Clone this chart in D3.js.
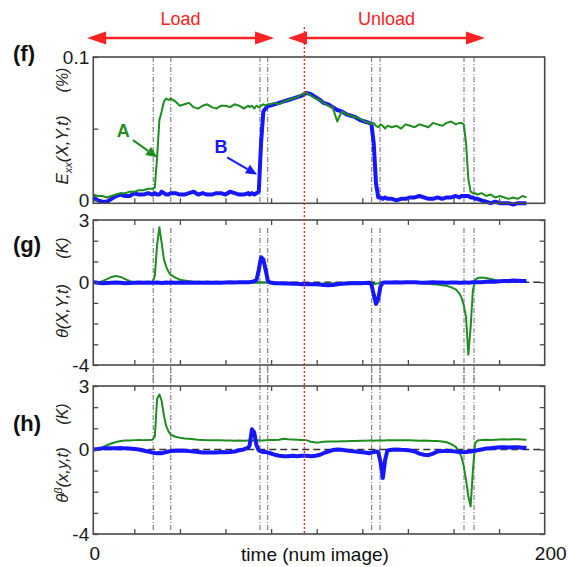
<!DOCTYPE html>
<html><head><meta charset="utf-8">
<script src="https://cdn.jsdelivr.net/npm/d3@7"></script>
<style>body{margin:0;background:#fff}svg text{font-family:"Liberation Sans",Arial,Helvetica,sans-serif}</style>
</head><body><svg id="c" width="569" height="567"></svg>
<script>
// image number (time axis)
const time = [
 2,4,6,8,10,12,14,16,18,20,22,24,26,28,
 29,30,31,32,33,34,35,36,
 38,40,42,44,46,48,50,52,54,56,58,60,62,64,66,68,70,
 70.6,71.6,72.6,73.6,74.6,75.6,76.6,77.6,78.6,79.6,
 81.5,83.5,85.5,87.5,89.5,91.5,93.5,95.5,97.5,99.5,101.5,103,105,107,109,111,113,115,117,119,121,123,
 124,125,126,127,128,129,130,131,
 133,135,137,139,141,143,145,147,149,151,153,155,157,159,161,162.6,
 163.5,164.5,165.5,166.5,167.5,168.5,169.5,170.5,
 172.3,174.3,176.3,178.3,180.3,182.3,184.2,186.2,188.2,190.2,192
];
// (f) Exx(X,Y,t) in %, point A (green) and B (blue)
const exxA = [
 0.004,0.003,0.003,0.002,0.003,0.004,0.005,0.005,0.006,0.006,0.007,0.007,0.008,0.008,
 0.009,0.030,0.056,0.062,0.069,0.071,0.070,0.071,
 0.069,0.066,0.067,0.068,0.065,0.064,0.066,0.067,0.065,0.064,0.066,0.066,0.065,0.067,0.066,0.064,0.066,
 0.065,0.066,0.064,0.066,0.065,0.066,0.067,0.066,0.067,0.067,
 0.068,0.067,0.069,0.070,0.071,0.072,0.074,0.075,0.073,0.071,0.070,0.068,0.066,0.065,0.055,0.062,0.060,0.059,0.058,0.057,0.055,0.054,
 0.053,0.054,0.052,0.051,0.053,0.052,0.050,0.052,
 0.051,0.052,0.050,0.053,0.052,0.051,0.053,0.052,0.051,0.054,0.053,0.052,0.054,0.055,0.053,0.054,
 0.054,0.053,0.040,0.015,0.006,0.005,0.005,0.004,
 0.005,0.003,0.004,0.002,0.003,0.002,0.001,0.002,0.001,0.003,0.002
];
const exxB = [
 0.002,0.000,-0.001,-0.001,0.001,0.003,0.004,0.003,0.003,0.005,0.004,0.004,0.005,0.004,
 0.005,0.004,0.004,0.006,0.005,0.004,0.004,0.005,
 0.005,0.004,0.004,0.005,0.006,0.004,0.005,0.004,0.004,0.005,0.005,0.004,0.006,0.005,0.004,0.004,0.005,
 0.004,0.005,0.004,0.005,0.006,0.040,0.062,0.064,0.066,0.066,
 0.067,0.068,0.069,0.070,0.071,0.072,0.073,0.075,0.074,0.072,0.070,0.068,0.067,0.065,0.063,0.062,0.060,0.059,0.058,0.056,0.055,0.054,
 0.053,0.040,0.012,0.002,0.002,0.001,0.002,0.001,
 0.001,0.000,0.001,0.001,0.002,0.002,0.003,0.002,0.001,0.001,0.002,0.001,0.002,0.002,0.003,0.002,
 0.003,0.003,0.003,0.003,0.002,0.002,0.001,0.001,
 0.000,-0.001,-0.002,-0.001,-0.002,-0.002,-0.002,-0.003,-0.002,-0.002,-0.002
];
// (g) theta(X,Y,t) in K
const thetaA = [
 0,0,0.05,0.15,0.25,0.3,0.25,0.15,0.05,0,0,-0.02,0,0,
 0.3,1.8,2.65,1.9,1.1,0.75,0.5,0.35,
 0.22,0.12,0.08,0.04,0.02,0,0,-0.02,0,-0.02,-0.02,-0.03,-0.02,-0.03,-0.02,-0.03,-0.02,
 -0.03,-0.02,-0.03,-0.02,-0.03,-0.02,-0.03,-0.02,-0.03,-0.03,
 -0.05,-0.06,-0.05,-0.08,-0.06,-0.07,-0.05,-0.06,-0.08,-0.1,-0.08,-0.07,-0.08,-0.06,-0.05,-0.06,-0.05,-0.04,-0.05,-0.04,-0.03,-0.02,
 0,-0.1,-0.08,-0.05,-0.03,-0.02,0,-0.02,
 0,-0.02,0,-0.02,0,-0.02,-0.05,-0.05,-0.08,-0.1,-0.12,-0.15,-0.18,-0.25,-0.35,-0.55,
 -0.75,-1.1,-1.7,-3.5,-2.2,-0.4,0.1,0.2,
 0.22,0.2,0.15,0.1,0.05,0.02,0,0.02,0.05,0.02,0
];
const thetaB = [
 0,-0.03,-0.05,-0.04,-0.03,-0.02,-0.03,-0.05,-0.04,-0.03,-0.02,-0.03,-0.02,-0.03,
 -0.03,-0.02,-0.03,-0.04,-0.03,-0.02,-0.03,-0.02,
 -0.03,-0.02,-0.03,-0.02,-0.03,-0.02,-0.03,-0.02,-0.03,-0.02,-0.03,-0.02,-0.01,-0.02,-0.01,0,0,
 0,0.02,0.05,0.1,0.6,1.2,1.1,0.6,0.05,-0.02,
 -0.05,-0.05,-0.06,-0.07,-0.08,-0.08,-0.1,-0.09,-0.1,-0.1,-0.12,-0.14,-0.15,-0.14,-0.1,-0.08,-0.06,-0.05,-0.04,-0.05,-0.04,-0.03,
 -0.1,-0.6,-1.05,-0.8,-0.2,-0.03,-0.02,-0.02,
 -0.02,-0.01,-0.02,0,-0.01,0,-0.02,-0.03,-0.02,-0.01,-0.02,-0.02,-0.03,-0.02,-0.02,-0.03,
 -0.03,-0.02,-0.02,-0.03,-0.02,-0.01,0,0,
 0,0.02,0.03,0.02,0.04,0.05,0.06,0.08,0.07,0.05,0.06
];
// (h) theta^beta(x,y,t) in K
const thetaBetaA = [
 0,0.02,0.1,0.2,0.28,0.35,0.4,0.42,0.42,0.44,0.45,0.44,0.45,0.46,
 0.6,2.4,2.6,2.3,1.6,1.1,0.85,0.7,
 0.6,0.55,0.52,0.5,0.48,0.46,0.45,0.44,0.44,0.43,0.43,0.42,0.42,0.41,0.42,0.41,0.42,
 0.42,0.41,0.42,0.42,0.43,0.42,0.42,0.43,0.44,0.45,
 0.45,0.46,0.5,0.48,0.47,0.46,0.45,0.44,0.36,0.33,0.34,0.36,0.37,0.38,0.38,0.39,0.39,0.4,0.4,0.41,0.41,0.42,
 0.42,0.41,0.42,0.42,0.43,0.42,0.42,0.43,
 0.43,0.43,0.43,0.44,0.43,0.42,0.41,0.42,0.41,0.4,0.4,0.38,0.34,0.25,0.12,-0.15,
 -0.35,-0.8,-1.45,-2.2,-2.7,-1.0,0.3,0.42,
 0.45,0.46,0.45,0.46,0.47,0.48,0.47,0.48,0.48,0.47,0.46
];
const thetaBetaB = [
 0,0.02,0.05,0.06,0.05,0.06,0.07,0.05,0.04,0.02,0,-0.05,-0.1,-0.15,
 -0.17,-0.18,-0.17,-0.18,-0.15,-0.12,-0.1,-0.08,
 -0.06,-0.05,-0.06,-0.08,-0.1,-0.12,-0.14,-0.15,-0.14,-0.15,-0.12,-0.13,-0.12,-0.1,-0.04,0,0.08,
 0.2,0.95,0.8,0.2,-0.05,-0.1,-0.12,-0.12,-0.15,-0.18,
 -0.25,-0.3,-0.32,-0.32,-0.3,-0.32,-0.3,-0.3,-0.32,-0.3,-0.25,-0.18,-0.1,-0.03,0,-0.02,-0.05,-0.08,-0.1,-0.12,-0.15,-0.18,
 -0.15,-0.12,-0.1,-0.12,-0.6,-1.35,-0.5,-0.05,
 -0.02,0,-0.02,-0.03,-0.05,-0.1,-0.2,-0.25,-0.27,-0.2,-0.1,-0.08,-0.06,-0.08,-0.1,-0.12,
 -0.12,-0.13,-0.12,-0.11,-0.1,-0.08,-0.06,-0.04,
 0,0.04,0.06,0.08,0.1,0.1,0.09,0.1,0.1,0.08,0.08
];
const eventTimes = [28.3,36.0,75.1,78.5,124.1,127.8,164.6,169.0];
const switchTime = 94.6;
const loadSpan = [-0.7,81.3];
const unloadSpan = [87.4,173.8];
const xTicks = [20,40,60,80,100,120,140,160,180];
const xLabels = [0,200];
const exxTicks = [0,0.05,0.1];
const exxLabels = {0:"0",0.1:"0.1"};
const thetaTicks = [-4,-3,-2,-1,0,1,2,3];
const thetaLabels = {3:"3",0:"0","-4":"-4"};

const GREEN="#1f8c1f", BLUE="#1616ff", RED="#ff2222", FRAME="#4a4a4a";
const svg = d3.select("#c");
const x = d3.scaleLinear().domain([0,200]).range([88.7,544.7]);
const x0 = x(2), x1 = x(200);

const panels = [
 {id:"f", a:exxA, b:exxB, y:d3.scaleLinear().domain([-0.0021,0.1]).range([203.3,57]),
  ticks:exxTicks, labels:exxLabels, full:false, blueTop:false, zero:false,
  label:"(f)", labelY:61, titleMain:"exx", titleMainY:150, unit:"(%)", unitY:80, ev:[57,203]},
 {id:"g", a:thetaA, b:thetaB, y:d3.scaleLinear().domain([-4,3]).range([365,220]),
  ticks:thetaTicks, labels:thetaLabels, full:true, blueTop:true, zero:true,
  label:"(g)", labelY:252, titleMain:"theta", titleMainY:311, unit:"(K)", unitY:248, ev:[228,386]},
 {id:"h", a:thetaBetaA, b:thetaBetaB, y:d3.scaleLinear().domain([-4,3]).range([534,386]),
  ticks:thetaTicks, labels:thetaLabels, full:true, blueTop:true, zero:true,
  label:"(h)", labelY:431, titleMain:"thetab", titleMainY:475, unit:"(K)", unitY:414, ev:[365,530]}
];

function styleAxis(g){
  g.select(".domain").remove();
  g.selectAll(".tick line").attr("stroke",FRAME).attr("stroke-width",1.3);
  g.selectAll("text").attr("font-size",19).attr("fill","#1a1a1a").attr("font-family","Liberation Sans, Arial, sans-serif");
}

panels.forEach(p=>{
  const y = p.y, top=y.range()[1], bot=y.range()[0];
  const g = svg.append("g");
  eventTimes.forEach(t=>{
    g.append("line").attr("x1",x(t)).attr("x2",x(t)).attr("y1",p.ev[0]).attr("y2",p.ev[1])
     .attr("stroke","#7a7a7a").attr("stroke-width",1.1).attr("stroke-dasharray","5,2,1,2");
  });
  if(p.zero){
    g.append("line").attr("x1",x0).attr("x2",x1).attr("y1",y(0)).attr("y2",y(0))
     .attr("stroke","#333").attr("stroke-width",1.5).attr("stroke-dasharray","7,4");
  }
  const line = d3.line().x((d,i)=>x(time[i])).y(d=>y(d));
  const drawA = ()=>g.append("path").datum(p.a).attr("d",line).attr("fill","none").attr("stroke",GREEN).attr("stroke-width",2).attr("stroke-linejoin","round");
  const drawB = ()=>g.append("path").datum(p.b).attr("d",line).attr("fill","none").attr("stroke",BLUE).attr("stroke-width",4).attr("stroke-linejoin","round");
  if(p.blueTop){drawA();drawB();} else {drawB();drawA();}
  g.append("rect").attr("x",x0).attr("y",top).attr("width",x1-x0).attr("height",bot-top)
   .attr("fill","none").attr("stroke",FRAME).attr("stroke-width",1.6);
  g.append("g").attr("transform",`translate(${x0},0)`)
   .call(d3.axisLeft(y).tickValues(p.ticks).tickFormat(d=>p.labels[d]||"").tickSizeInner(-5).tickSizeOuter(0).tickPadding(4))
   .call(styleAxis);
  g.append("g").attr("transform",`translate(0,${bot})`)
   .call(d3.axisBottom(x).tickValues(xTicks).tickFormat("").tickSizeInner(-5).tickSizeOuter(0)).call(styleAxis);
  if(p.full){
    g.append("g").attr("transform",`translate(${x1},0)`)
     .call(d3.axisRight(y).tickValues(p.ticks).tickFormat("").tickSizeInner(-5).tickSizeOuter(0)).call(styleAxis);
    g.append("g").attr("transform",`translate(0,${top})`)
     .call(d3.axisTop(x).tickValues(xTicks).tickFormat("").tickSizeInner(-5).tickSizeOuter(0)).call(styleAxis);
  }
  g.append("text").attr("x",13).attr("y",p.labelY).attr("font-size",22).attr("font-weight","bold").attr("fill","#111").text(p.label);
  const tm = g.append("text").attr("transform",`translate(68,${p.titleMainY}) rotate(-90)`)
    .attr("text-anchor","middle").attr("font-style","italic").attr("font-size",p.id==="f"?17:16.5).attr("fill","#222");
  if(p.titleMain==="exx"){
    tm.append("tspan").text("E");
    tm.append("tspan").attr("dy",4).attr("font-size",11).text("xx");
    tm.append("tspan").attr("dy",-4).text("(X,Y,t)");
  } else if(p.titleMain==="theta"){
    tm.append("tspan").text("θ(X,Y,t)");
  } else {
    tm.append("tspan").text("θ");
    tm.append("tspan").attr("dy",-6).attr("font-size",11).text("β");
    tm.append("tspan").attr("dy",6).text("(x,y,t)");
  }
  g.append("text").attr("transform",`translate(68,${p.unitY}) rotate(-90)`)
    .attr("text-anchor","middle").attr("font-style","italic").attr("font-size",16).attr("fill","#222").text(p.unit);
});

xLabels.forEach(v=>{
  svg.append("text").attr("x",x(v)+6).attr("y",560).attr("text-anchor","middle").attr("font-size",19).attr("fill","#111").text(v);
});
svg.append("text").attr("x",315).attr("y",561).attr("text-anchor","middle").attr("font-size",19).attr("fill","#111").text("time (num image)");

svg.append("line").attr("x1",x(switchTime)).attr("x2",x(switchTime)).attr("y1",27).attr("y2",534)
  .attr("stroke",RED).attr("stroke-width",1.4).attr("stroke-dasharray","2,2");

function dblArrow(a,b,yy){
  const xa=x(a), xb=x(b), L=19, H=6.5;
  svg.append("line").attr("x1",xa+L-2).attr("x2",xb-L+2).attr("y1",yy).attr("y2",yy).attr("stroke",RED).attr("stroke-width",2.5);
  svg.append("path").attr("d",`M${xa},${yy}L${xa+L},${yy-H}L${xa+L},${yy+H}Z`).attr("fill",RED);
  svg.append("path").attr("d",`M${xb},${yy}L${xb-L},${yy-H}L${xb-L},${yy+H}Z`).attr("fill",RED);
}
dblArrow(loadSpan[0],loadSpan[1],38);
dblArrow(unloadSpan[0],unloadSpan[1],38);
svg.append("text").attr("x",x((loadSpan[0]+loadSpan[1])/2)).attr("y",25).attr("text-anchor","middle").attr("font-size",18).attr("fill",RED).text("Load");
svg.append("text").attr("x",x((unloadSpan[0]+unloadSpan[1])/2)).attr("y",25).attr("text-anchor","middle").attr("font-size",18).attr("fill",RED).text("Unload");

const yf = panels[0].y;
function annot(label,color,lx,ly,sx,sy,tx,ty){
  svg.append("text").attr("x",x(lx)).attr("y",yf(ly)).attr("text-anchor","middle").attr("font-size",18).attr("font-weight","bold").attr("fill",color).text(label);
  const X1=x(sx),Y1=yf(sy),X2=x(tx),Y2=yf(ty);
  const ang=Math.atan2(Y2-Y1,X2-X1), L=11, W=5;
  const bx=X2-L*Math.cos(ang), by=Y2-L*Math.sin(ang);
  svg.append("line").attr("x1",X1).attr("y1",Y1).attr("x2",bx).attr("y2",by).attr("stroke",color).attr("stroke-width",2);
  svg.append("path").attr("d",`M${X2},${Y2}L${bx+W*Math.sin(ang)},${by-W*Math.cos(ang)}L${bx-W*Math.sin(ang)},${by+W*Math.cos(ang)}Z`).attr("fill",color);
}
annot("A",GREEN,15.1,0.044,19.4,0.042,30.0,0.030);
annot("B",BLUE,58,0.033,60.7,0.030,73.8,0.018);
</script>
</body></html>
